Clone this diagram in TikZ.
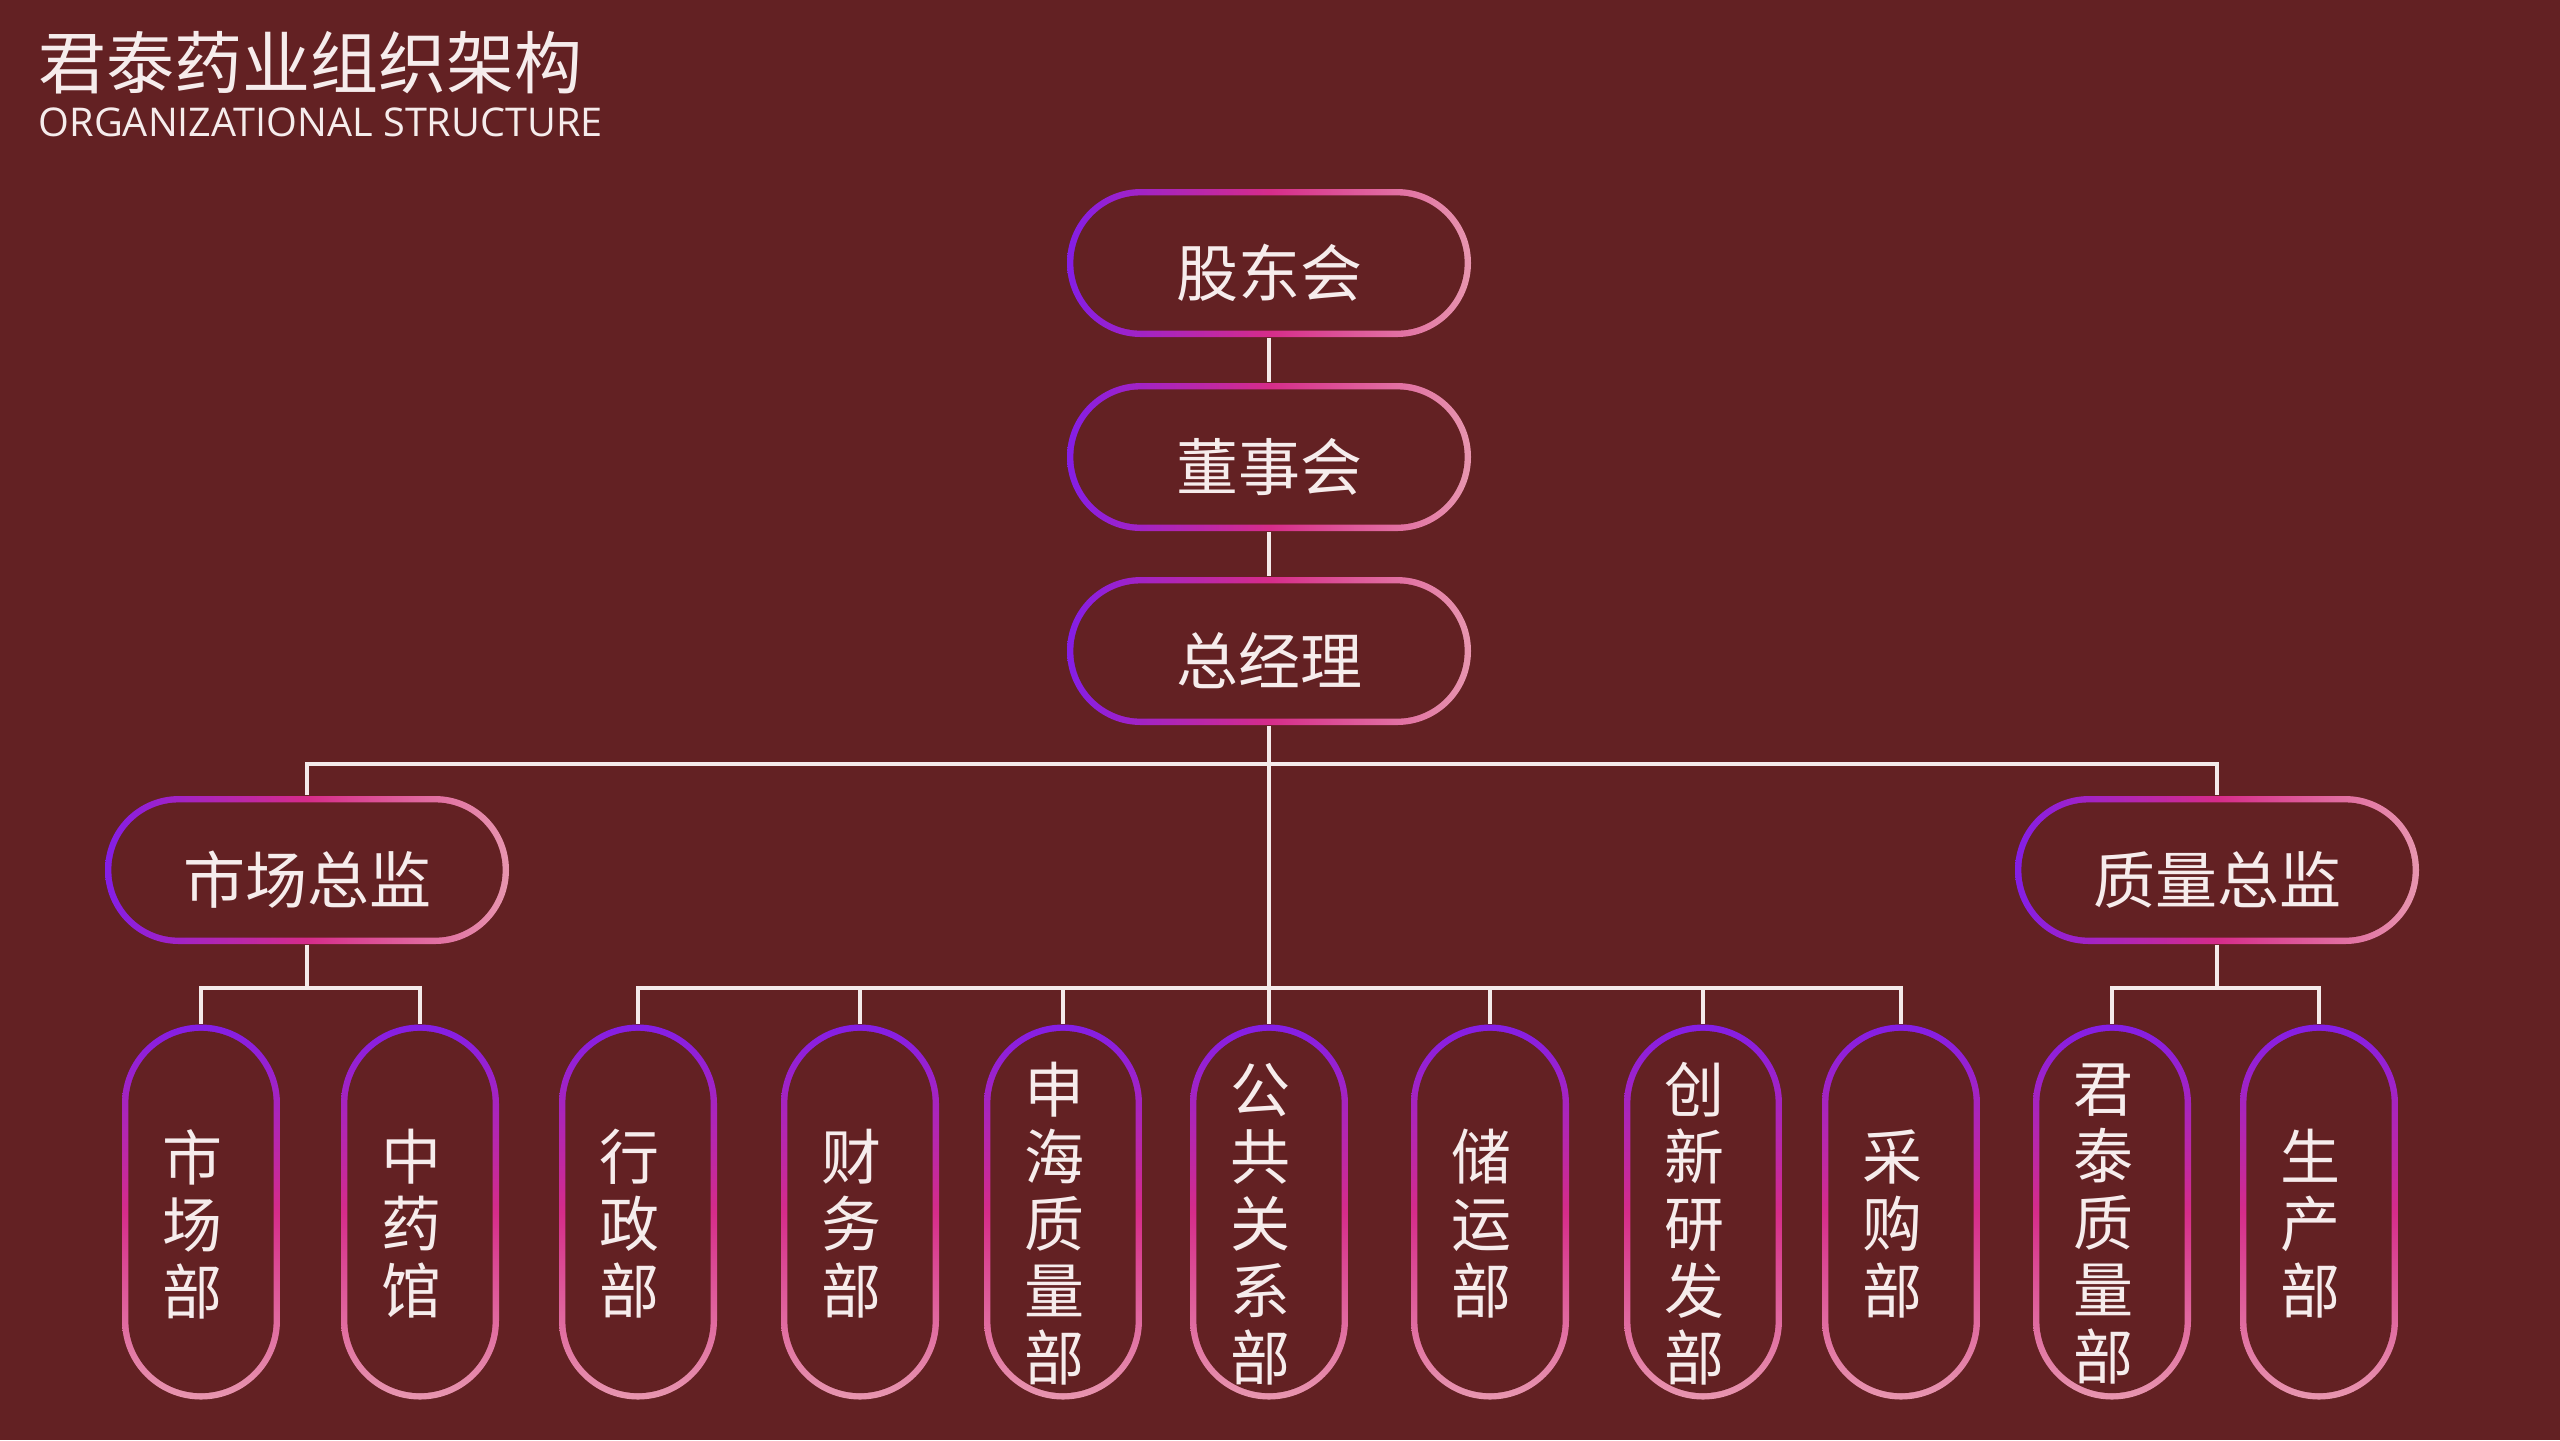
\documentclass[tikz,border=0pt]{standalone}
\usepackage{fontspec}
\setmainfont{Open Sans}
\newfontfamily\cjk{Noto Sans CJK SC}
\usepackage{tikz}
\usetikzlibrary{positioning, calc}
\definecolor{bgcolor}{RGB}{99,33,35}
\definecolor{violetend}{RGB}{132,30,230}
\definecolor{magentamid}{RGB}{214,44,138}
\definecolor{pinkend}{RGB}{232,150,175}
\definecolor{textcolor}{RGB}{246,236,236}
\definecolor{linkcolor}{RGB}{244,234,234}

\begin{document}
\begin{tikzpicture}[
    x=0.25pt, y=-0.25pt,
    pill/.style={rectangle, inner sep=0pt, text=textcolor, align=center},
    headbox/.style={pill, minimum width=101pt, minimum height=37pt,
        font=\cjk\fontsize{15.5}{18}\selectfont, text height=16.8pt, text depth=0pt,
        path picture={
            \shade[left color=violetend, right color=pinkend, middle color=magentamid, rounded corners=18.5pt]
                (path picture bounding box.south west) rectangle (path picture bounding box.north east);
            \fill[bgcolor, rounded corners=16.9pt]
                ([shift={(1.6pt,1.6pt)}]path picture bounding box.south west) rectangle ([shift={(-1.6pt,-1.6pt)}]path picture bounding box.north east);
        }},
    deptbox/.style={pill, minimum width=39.5pt, minimum height=93.75pt,
        path picture={
            \shade[top color=violetend, bottom color=pinkend, middle color=magentamid, rounded corners=19.75pt]
                (path picture bounding box.south west) rectangle (path picture bounding box.north east);
            \fill[bgcolor, rounded corners=18.15pt]
                ([shift={(1.6pt,1.6pt)}]path picture bounding box.south west) rectangle ([shift={(-1.6pt,-1.6pt)}]path picture bounding box.north east);
        }},
    depttext/.style={inner sep=0pt, text=textcolor, align=center, xshift=-2.2pt, yshift=-3pt,
        font=\cjk\fontsize{15}{16.75}\selectfont},
    link/.style={draw=linkcolor, line width=1pt}
]
    % background and page size
    \fill[bgcolor] (0,0) rectangle (2560,1440);
    \useasboundingbox (0,0) rectangle (2560,1440);

    % title
    \node[anchor=west, inner sep=0pt, text=textcolor, font=\cjk\fontsize{17}{20}\selectfont] (title) at (38,63) {君泰药业组织架构};
    \node[anchor=west, inner sep=0pt, text=textcolor, font=\fontsize{9.9}{12}\selectfont] (subtitle) at (38,122) {ORGANIZATIONAL STRUCTURE};

    % top of the chart
    \node[headbox] (board) at (1269,263) {股东会};
    \node[headbox] (directors) at (1269,457) {董事会};
    \node[headbox] (manager) at (1269,651) {总经理};
    \node[headbox] (market) at (307,870) {市场总监};
    \node[headbox] (quality) at (2217,870) {质量总监};

    % departments
    \foreach \id/\x/\txt in {mkt/201/{市\\场\\部}, herb/420/{中\\药\\馆}, admin/638/{行\\政\\部},
        fin/860/{财\\务\\部}, shq/1063/{申\\海\\质\\量\\部}, pub/1269/{公\\共\\关\\系\\部},
        store/1490/{储\\运\\部}, rnd/1703/{创\\新\\研\\发\\部}, buy/1901/{采\\购\\部},
        jtq/2112/{君\\泰\\质\\量\\部}, prod/2319/{生\\产\\部}}
        \node[deptbox, label={[depttext]center:{\txt}}] (\id) at (\x,1212) {};

    % connectors
    \coordinate (upbus) at (1269,764);
    \coordinate (lowbus) at (1269,988);
    \draw[link] (board) -- (directors);
    \draw[link] (directors) -- (manager);
    \draw[link] (manager) -- (pub);
    \draw[link] (market.north) |- (upbus) -| (quality.north);
    \draw[link] (admin.north) |- (lowbus) -| (buy.north);
    \foreach \id in {fin, shq, store, rnd}
        \draw[link] (\id.north) -- (\id.north |- lowbus);
    \draw[link] (market) -- (market.south |- lowbus);
    \draw[link] (mkt.north) |- (market.south |- lowbus) -| (herb.north);
    \draw[link] (quality) -- (quality.south |- lowbus);
    \draw[link] (jtq.north) |- (quality.south |- lowbus) -| (prod.north);
\end{tikzpicture}
\end{document}
